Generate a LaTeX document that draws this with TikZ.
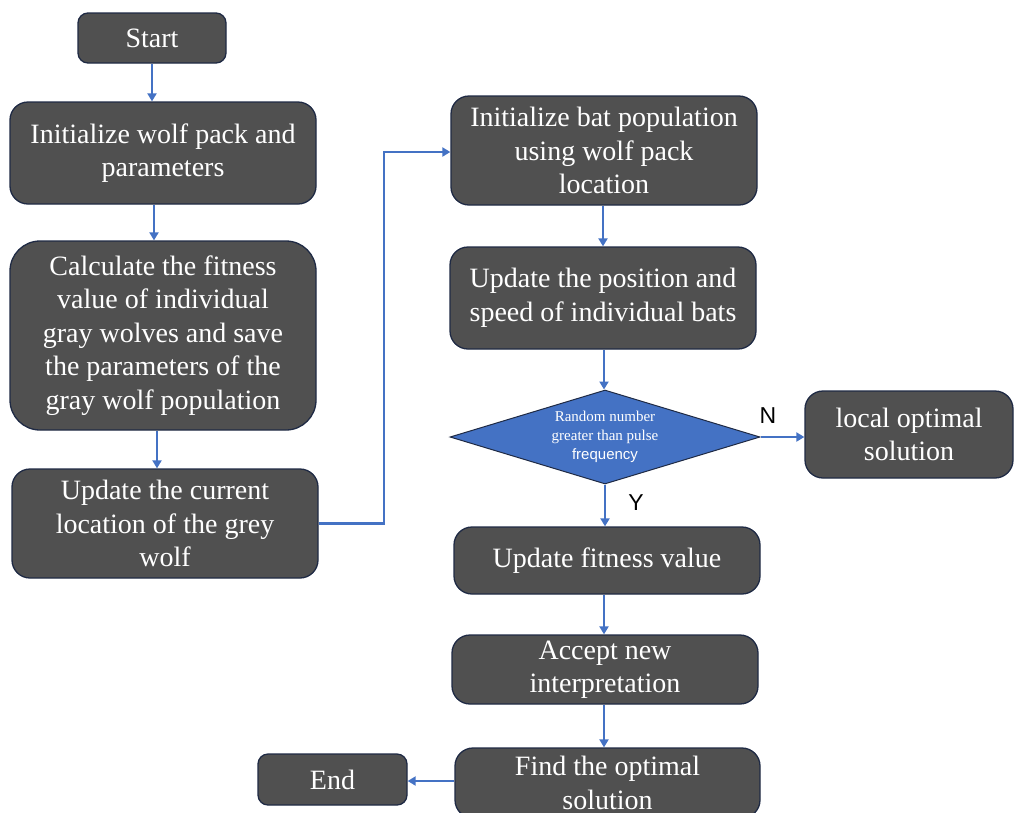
\documentclass[tikz,border=0pt]{standalone}
\usepackage{fontspec}
\setmainfont{Liberation Serif}
\setsansfont{Liberation Sans}
\newfontfamily\boxserif{Liberation Serif}
\usetikzlibrary{arrows.meta,shapes.geometric}
\definecolor{boxfill}{HTML}{505050}
\definecolor{boxline}{HTML}{1F2A44}
\definecolor{flowblue}{HTML}{4472C4}
\tikzset{
  x=1pt, y=-1pt,
  procbox/.style={draw=boxline, line width=1.3pt, fill=boxfill, text=white,
    rounded corners=18pt, align=center, inner sep=0pt,
    font=\boxserif\fontsize{28}{33.5}\selectfont},
  decision/.style={diamond, draw=boxline, line width=1pt, fill=flowblue, text=white,
    aspect=3.3, inner sep=0pt, align=center,
    font=\boxserif\fontsize{15}{19}\selectfont},
  flow/.style={draw=flowblue, line width=2.5pt,
    -{Triangle[width=9pt,length=8pt]}},
  yn/.style={font=\sffamily\fontsize{23}{24}\selectfont, text=black},
}
\begin{document}
\begin{tikzpicture}
\useasboundingbox (0,0) rectangle (1016,812);
% left column: grey wolf stage
\node[procbox, rounded corners=10pt, minimum width=148pt, minimum height=50pt] (start) at (152,38) {Start};
\node[procbox, minimum width=306pt, minimum height=102pt] (initwolf) at (163,153) {Initialize wolf pack and\\parameters};
\node[procbox, rounded corners=30pt, minimum width=306pt, minimum height=189pt] (calc) at (163,335.5) {Calculate the fitness\\value of individual\\gray wolves and save\\the parameters of the\\gray wolf population};
\node[procbox, minimum width=306pt, minimum height=109pt] (updwolf) at (165,523.5) {Update the current\\location of the grey\\wolf};
% right column: bat stage
\node[procbox, minimum width=306pt, minimum height=109pt] (initbat) at (604,150.5) {Initialize bat population\\using wolf pack\\location};
\node[procbox, minimum width=306pt, minimum height=102pt] (updbat) at (603,298) {Update the position and\\speed of individual bats};
\node[decision, minimum width=310pt, minimum height=94pt] (test) at (605,437)
  {Random number\\greater than pulse\\{\sffamily frequency}};
\node[procbox, minimum width=208pt, minimum height=87pt] (local) at (909,434.5) {local optimal\\solution};
\node[procbox, minimum width=306pt, minimum height=67pt] (fitness) at (607,560.5) {Update fitness value};
\node[procbox, minimum width=306pt, minimum height=69pt] (accept) at (605,669.5) {Accept new\\interpretation};
\node[procbox, minimum width=305pt, minimum height=70pt] (find) at (607.5,783) {Find the optimal\\solution};
\node[procbox, rounded corners=10pt, minimum width=149pt, minimum height=51pt] (end) at (332.5,779.5) {End};
% connectors
\draw[flow] (start.south) -- (initwolf.north -| start.south);
\draw[flow] (initwolf.south) ++(-9,0) coordinate (a1) -- (a1 |- calc.north);
\draw[flow] (calc.south) ++(-6,0) coordinate (a2) -- (a2 |- updwolf.north);
\draw[flow] (updwolf.east) -- (384,523.5) -- (384,152) -- (initbat.west |- 0,152);
\draw[flow] (initbat.south) ++(-1,0) coordinate (a3) -- (a3 |- updbat.north);
\draw[flow] (updbat.south) ++(1,0) coordinate (a4) -- (a4 |- test.north);
\draw[flow] (test.east) -- (local.west |- test.east);
\draw[flow] (test.south) -- (test.south |- fitness.north);
\draw[flow] (fitness.south) ++(-3,0) coordinate (a5) -- (a5 |- accept.north);
\draw[flow] (accept.south) ++(-1,0) coordinate (a6) -- (a6 |- find.north);
\draw[flow] (find.west |- end.east) ++(0,1.5) coordinate (a7) -- (a7 -| end.east);
% branch labels
\node[yn] (nlabel) at (768,416) {N};
\node[yn] (ylabel) at (636,503) {Y};
\end{tikzpicture}
\end{document}
